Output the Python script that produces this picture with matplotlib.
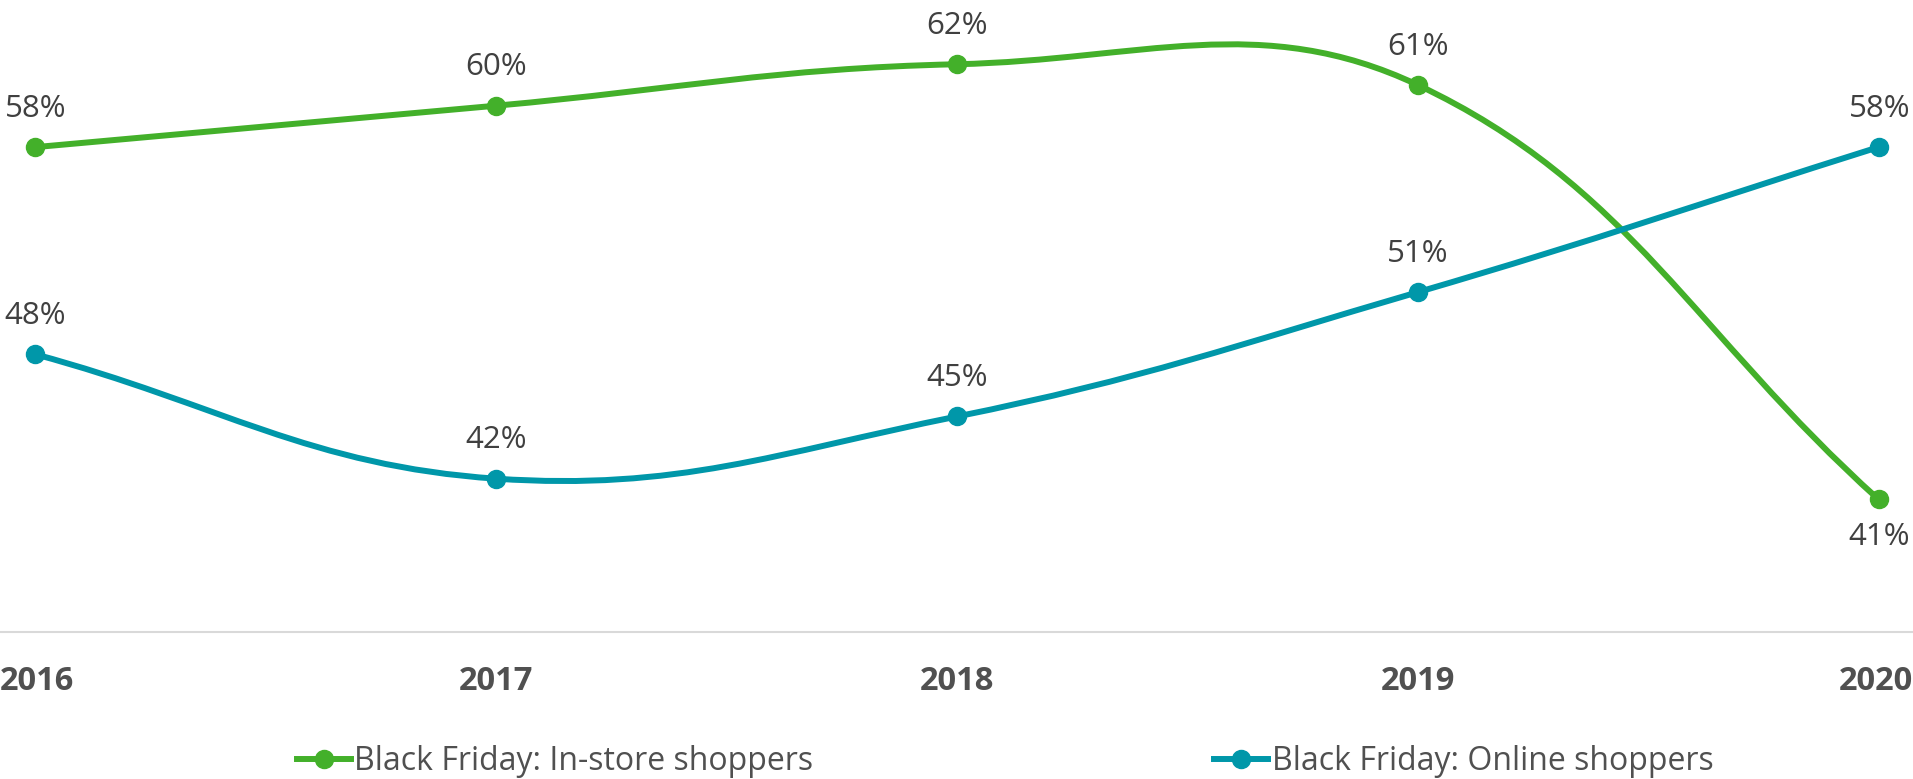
import numpy as np
import matplotlib
matplotlib.use("Agg")
import matplotlib.pyplot as plt
from matplotlib.path import Path
from matplotlib.patches import PathPatch
from matplotlib.lines import Line2D
from matplotlib.transforms import ScaledTranslation

# ---- data -------------------------------------------------------------
years = ["2016", "2017", "2018", "2019", "2020"]
in_store = [58, 60, 62, 61, 41]
online = [48, 42, 45, 51, 58]
series_names = ["Black Friday: In-store shoppers", "Black Friday: Online shoppers"]

# ---- style ------------------------------------------------------------
GREEN = "#43B02A"
TEAL = "#0097A9"
TEXT = "#404040"
AXIS_TEXT = "#505050"
FONT = "Open Sans"
LW = 4.3
MS = 13
TENSION = 0.4

W, H, DPI = 1913, 779, 100
fig = plt.figure(figsize=(W / DPI, H / DPI), dpi=DPI)
ax = fig.add_axes([0, (H - 632) / H, 1, 632 / H])
ax.set_xlim(-0.0768, 4.0747)
ax.set_ylim(34.6, 65.1)

for s in ("top", "left", "right"):
    ax.spines[s].set_visible(False)
ax.spines["bottom"].set_color("#d9d9d9")
ax.spines["bottom"].set_linewidth(1.5)
ax.set_yticks([])


def smooth_path(xs, ys):
    """Cubic Bezier path through the points, with tension-based control
    points computed in display space (distance weighted)."""
    pts = ax.transData.transform(np.column_stack([xs, ys]))
    n = len(pts)
    prev_cp = [None] * n
    next_cp = [None] * n
    for i in range(n):
        cur = pts[i]
        p = pts[i - 1] if i > 0 else cur
        nx = pts[i + 1] if i < n - 1 else cur
        d01 = np.hypot(*(cur - p))
        d12 = np.hypot(*(nx - cur))
        tot = d01 + d12
        s01 = d01 / tot if tot else 0
        s12 = d12 / tot if tot else 0
        prev_cp[i] = cur - TENSION * s01 * (nx - p)
        next_cp[i] = cur + TENSION * s12 * (nx - p)
    verts = [pts[0]]
    codes = [Path.MOVETO]
    for i in range(1, n):
        verts += [next_cp[i - 1], prev_cp[i], pts[i]]
        codes += [Path.CURVE4] * 3
    verts = ax.transData.inverted().transform(np.array(verts))
    return Path(verts, codes)


x = np.arange(len(years))
series = [(in_store, GREEN), (online, TEAL)]
handles = []
for (vals, color), name in zip(series, series_names):
    patch = PathPatch(smooth_path(x, vals), facecolor="none", edgecolor=color,
                      lw=LW, capstyle="round", joinstyle="round", zorder=3)
    patch.set_clip_on(False)
    ax.add_patch(patch)
    ax.plot(x, vals, ls="none", marker="o", ms=MS, color=color, zorder=4,
            clip_on=False)
    handles.append(Line2D([], [], color=color, lw=LW, marker="o", ms=MS,
                          label=name))

# ---- value labels ------------------------------------------------------
px_per_pt = DPI / 72.0
right_edge_px = ax.transData.transform((ax.get_xlim()[1], 0))[0]
below = {(0, 4)}  # (series index, point index) labelled beneath the marker
for si, (vals, color) in enumerate(series):
    for i, v in enumerate(vals):
        dy = -27 if (si, i) in below else 27.5
        ha, dx = "center", 0
        if i == len(vals) - 1:
            pt_px = ax.transData.transform((i, v))[0]
            ha, dx = "right", (right_edge_px - 3 - pt_px) / px_per_pt
        ax.annotate(f"{v}%", (i, v), xytext=(dx, dy), textcoords="offset points",
                    ha=ha, va="center", fontsize=22.5, color=TEXT,
                    family=FONT, annotation_clip=False)

# ---- x axis labels -----------------------------------------------------
ax.set_xticks(x, years)
ax.tick_params(axis="x", length=0, pad=35.5)
labels = ax.get_xticklabels()
left_shift = ax.transData.transform((0, 0))[0] / DPI
right_shift = (right_edge_px - ax.transData.transform((len(years) - 1, 0))[0]) / DPI
for lab in labels:
    lab.set_fontfamily(FONT)
    lab.set_fontweight("bold")
    lab.set_fontsize(23.5)
    lab.set_color(AXIS_TEXT)
    lab.set_verticalalignment("center")
labels[0].set_horizontalalignment("left")
labels[0].set_transform(labels[0].get_transform()
                        + ScaledTranslation(-left_shift, 0, fig.dpi_scale_trans))
labels[-1].set_horizontalalignment("right")
labels[-1].set_transform(labels[-1].get_transform()
                         + ScaledTranslation(right_shift, 0, fig.dpi_scale_trans))

# ---- legend -------------------------------------------------------------
legend_x = [297 / W, 1214 / W]
for h, lx in zip(handles, legend_x):
    fig.legend(handles=[h], loc="center left", bbox_to_anchor=(lx, 1 - 761.5 / H),
               frameon=False, borderpad=0, borderaxespad=0, handlelength=1.7,
               handletextpad=0.1, prop={"family": FONT, "size": 23},
               labelcolor=AXIS_TEXT)

fig.savefig("out.png", dpi=DPI)
